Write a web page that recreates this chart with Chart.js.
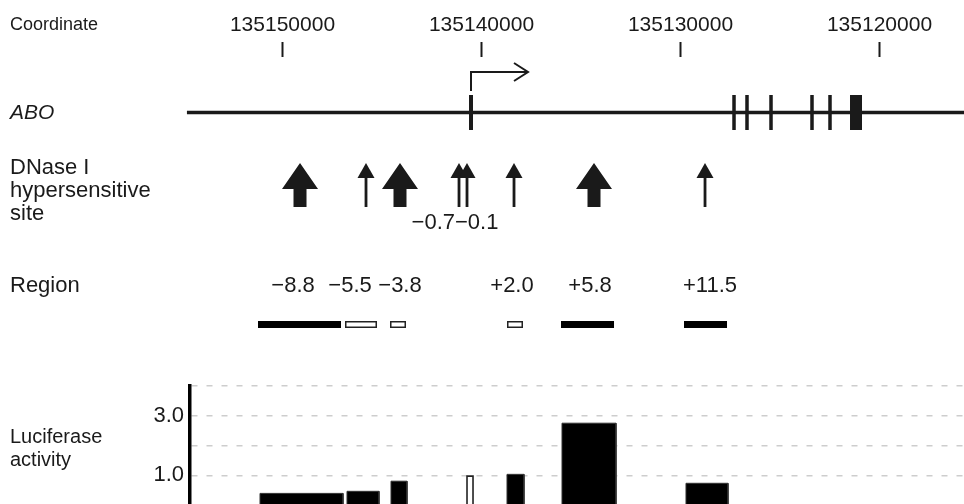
<!DOCTYPE html>
<html><head><meta charset="utf-8">
<script src="https://cdn.jsdelivr.net/npm/chart.js@4/dist/chart.umd.min.js"></script>
<style>html,body{margin:0;padding:0;background:#fff;overflow:hidden}#wrap{position:relative;width:964px;height:530px}</style>
</head><body><div id="wrap"><canvas id="c"></canvas></div>
<script>
// ---- Coordinate axis (bp, hg18 chr9) ----
const coordTicks = [135150000, 135140000, 135130000, 135120000];
const coordTickLabels = ['135150000', '135140000', '135130000', '135120000'];

// ---- ABO gene model ----
const geneName = 'ABO';
const geneSpan = [135154800, 135100000];
const tssPosition = 135140518;
const exonStarts = [135140618, 135127383, 135126730, 135125523, 135123462, 135122557, 135121463];
const exonEnds   = [135140418, 135127207, 135126554, 135125347, 135123286, 135122381, 135120860];

// ---- DNase I hypersensitive sites ----
const dhsPositions = [135149115, 135145797, 135144088, 135141121, 135140719, 135138356, 135134334, 135128753];
const dhsStrength  = ['strong', 'weak', 'strong', 'weak', 'weak', 'weak', 'strong', 'weak'];
const dhsLabels    = ['', '', '', '\u22120.7', '\u22120.1', '', '', ''];

// ---- Tested regions ----
const regionLabels   = ['\u22128.8', '\u22125.5', '\u22123.8', '+2.0', '+5.8', '+11.5'];
const regionLabelPos = [135149467, 135146601, 135144088, 135138457, 135134535, 135128502];
const regionStarts   = [135151227, 135146853, 135144590, 135138708, 135135993, 135129809];
const regionEnds     = [135147054, 135145244, 135143786, 135137904, 135133328, 135127647];
const regionFilled   = [true, false, false, false, true, true];

// ---- Luciferase activity ----
const lucNames   = ['\u22128.8', '\u22125.5', '\u22123.8', 'promoter', '+2.0', '+5.8', '+11.5'];
const lucStarts  = [135151126, 135146752, 135144540, 135140719, 135138708, 135135943, 135129709];
const lucEnds    = [135146953, 135145143, 135143736, 135140417, 135137853, 135133228, 135127597];
const lucValues  = [0.39, 0.46, 0.80, 0.97, 1.03, 2.75, 0.73];
const lucFilled  = [true, true, true, false, true, true, true];

const yTickValues = [1, 3];
const yTickLabels = ['1.0', '3.0'];

// ---- Row labels ----
const rowLabels = [
  {lines: ['Coordinate'], y: 25, size: 18, italic: false},
  {lines: [geneName], y: 113, size: 21, italic: true},
  {lines: ['DNase I', 'hypersensitive', 'site'], y: 168, size: 22, italic: false},
  {lines: ['Region'], y: 286, size: 22, italic: false},
  {lines: ['Luciferase', 'activity'], y: 437, size: 20, italic: false}
];

const FONT = "'Liberation Sans', Arial, Helvetica, sans-serif";
const INK = '#1a1a1a';

const datasets = lucValues.map((v, i) => ({
  label: lucNames[i],
  data: [
    {x: lucStarts[i], y: 0}, {x: lucStarts[i], y: v},
    {x: lucEnds[i], y: v}, {x: lucEnds[i], y: 0}
  ],
  showLine: true,
  tension: 0,
  pointRadius: 0,
  borderWidth: lucFilled[i] ? 1 : 1.6,
  borderColor: lucFilled[i] ? '#333' : '#222',
  backgroundColor: lucFilled[i] ? '#000' : '#fff',
  fill: 'origin'
}));

const tracksPlugin = {
  id: 'tracks',
  afterDraw(chart) {
    const ctx = chart.ctx;
    const xs = chart.scales.x;
    const X = v => xs.getPixelForValue(v);
    ctx.save();
    ctx.fillStyle = INK;
    ctx.strokeStyle = INK;
    ctx.textBaseline = 'middle';

    // row labels
    rowLabels.forEach(r => {
      ctx.font = (r.italic ? 'italic ' : '') + r.size + 'px ' + FONT;
      ctx.textAlign = 'left';
      r.lines.forEach((t, k) => ctx.fillText(t, 10, r.y + k * 23));
    });

    // coordinate ticks
    ctx.font = '21px ' + FONT;
    ctx.textAlign = 'center';
    ctx.lineWidth = 2;
    coordTicks.forEach((c, i) => {
      const px = Math.round(X(c)) + 0.5;
      ctx.fillText(coordTickLabels[i], px, 25);
      ctx.beginPath(); ctx.moveTo(px, 42); ctx.lineTo(px, 57); ctx.stroke();
    });

    // gene line
    const gy = 112.5;
    ctx.lineWidth = 3.5;
    ctx.beginPath(); ctx.moveTo(X(geneSpan[0]), gy); ctx.lineTo(X(geneSpan[1]), gy); ctx.stroke();
    // exons
    exonStarts.forEach((s, i) => {
      const a = X(s), b = X(exonEnds[i]);
      const w = Math.max(3.5, b - a);
      ctx.fillRect((a + b) / 2 - w / 2, 95, w, 35);
    });
    // TSS arrow
    const tx = X(tssPosition);
    ctx.lineWidth = 2;
    ctx.beginPath();
    ctx.moveTo(tx, 91); ctx.lineTo(tx, 72); ctx.lineTo(tx + 57, 72);
    ctx.stroke();
    ctx.beginPath();
    ctx.moveTo(tx + 43, 63); ctx.lineTo(tx + 57, 72); ctx.lineTo(tx + 43, 81);
    ctx.stroke();

    // DHS arrows
    dhsPositions.forEach((p, i) => {
      const cx = X(p);
      if (dhsStrength[i] === 'strong') {
        ctx.beginPath();
        ctx.moveTo(cx, 163); ctx.lineTo(cx + 18, 189); ctx.lineTo(cx + 6.5, 189);
        ctx.lineTo(cx + 6.5, 207); ctx.lineTo(cx - 6.5, 207); ctx.lineTo(cx - 6.5, 189);
        ctx.lineTo(cx - 18, 189); ctx.closePath(); ctx.fill();
      } else {
        ctx.beginPath();
        ctx.moveTo(cx, 163); ctx.lineTo(cx + 8.5, 178); ctx.lineTo(cx - 8.5, 178); ctx.closePath(); ctx.fill();
        ctx.fillRect(cx - 1.4, 176, 2.8, 31);
      }
    });
    // DHS labels
    ctx.font = '22px ' + FONT;
    const lab = dhsLabels.map((t, i) => ({t, x: X(dhsPositions[i])})).filter(o => o.t);
    if (lab.length === 2) {
      const mid = (lab[0].x + lab[1].x) / 2 - 8;
      ctx.textAlign = 'right'; ctx.fillText(lab[0].t, mid, 223);
      ctx.textAlign = 'left'; ctx.fillText(lab[1].t, mid, 223);
    }

    // Regions
    ctx.textAlign = 'center';
    regionLabels.forEach((t, i) => ctx.fillText(t, X(regionLabelPos[i]), 286));
    regionStarts.forEach((s, i) => {
      const a = X(s), b = X(regionEnds[i]);
      if (regionFilled[i]) {
        ctx.fillStyle = '#000';
        ctx.fillRect(a, 321, b - a, 7);
      } else {
        ctx.fillStyle = '#fff';
        ctx.fillRect(a, 321, b - a, 7);
        ctx.strokeStyle = '#222';
        ctx.lineWidth = 1.5;
        ctx.strokeRect(a + 0.75, 321.75, b - a - 1.5, 5.5);
      }
    });
    ctx.restore();
  }
};

new Chart(document.getElementById('c'), {
  type: 'scatter',
  data: {datasets},
  options: {
    responsive: true,
    maintainAspectRatio: false,
    animation: false,
    layout: {padding: {top: 386, left: 130, right: 0, bottom: 25}},
    plugins: {legend: {display: false}, tooltip: {enabled: false}},
    scales: {
      x: {
        type: 'linear', reverse: true, display: false,
        min: 135115732, max: 135154646
      },
      y: {
        type: 'linear', min: 0, max: 4,
        afterFit: s => { s.width = 60; },
        ticks: {
          stepSize: 1, padding: 6, color: INK, autoSkip: false,
          font: {family: FONT, size: 22},
          callback: v => { const k = yTickValues.indexOf(v); return k >= 0 ? yTickLabels[k] : ''; }
        },
        grid: {
          drawTicks: false, lineWidth: 1.5,
          color: c => (c.tick && c.tick.value > 0) ? '#cdcdcd' : 'rgba(0,0,0,0)'
        },
        border: {display: true, color: '#000', width: 3.5, dash: [6, 9]}
      }
    }
  },
  plugins: [tracksPlugin]
});
</script>
</body></html>
